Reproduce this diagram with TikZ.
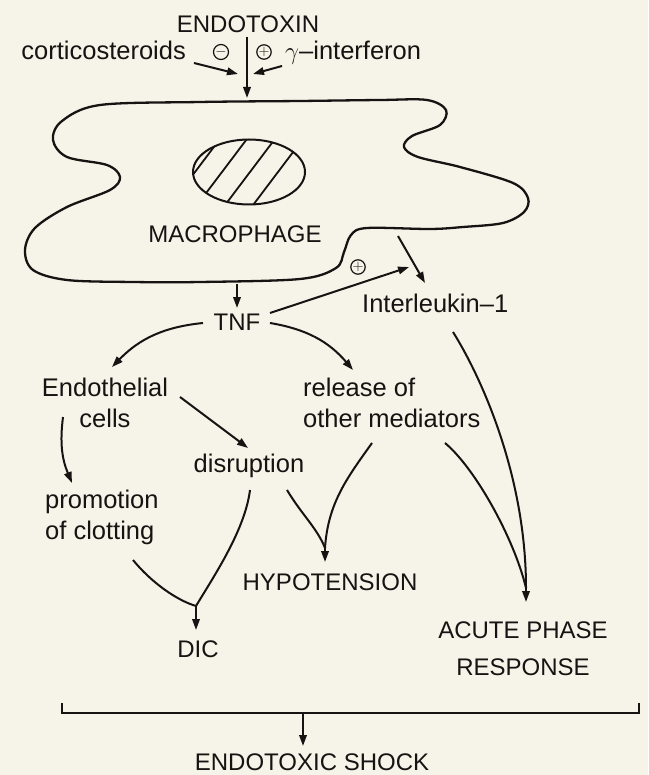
\documentclass[tikz,border=0pt]{standalone}
\usepackage{fontspec}
\setmainfont{Liberation Sans}
\usetikzlibrary{arrows.meta,calc}
\definecolor{paper}{RGB}{246,243,232}
\definecolor{ink}{RGB}{22,20,18}
\tikzset{lbl/.style={inner sep=0pt,anchor=base,text=ink,font=\fontsize{25.5}{30.5}\selectfont},caps/.style={inner sep=0pt,anchor=base,text=ink,font=\fontsize{24}{37}\selectfont},edge/.style={-{Triangle[length=11pt,width=7.5pt]},line width=2pt,draw=ink},link/.style={line width=2pt,draw=ink},sign/.style={circle,draw=ink,line width=1.2pt,inner sep=0pt,minimum size=14pt,text=ink,font=\fontsize{14}{14}\selectfont}}

\begin{document}
\begin{tikzpicture}[x=1pt,y=-1pt]
\useasboundingbox(0,0)rectangle(648,775);
\fill[paper](0,0)rectangle(648,775);
% macrophage
\draw[ink,line width=2.3pt]plot[smooth cycle,tension=0.55]coordinates{(100,105)(200,102)(300,101)(380,100)(427,100)(446,110)(440,125)(412,136)(404,147)(418,157)(460,167)(513,183)(528,198)(524,212)(503,223)(463,227)(430,229)(367,228)(351,235)(344,252)(336,268)(300,279)(200,282)(133,282)(67,280)(33,270)(25,250)(35,228)(67,207)(110,190)(120,177)(107,165)(67,157)(53,140)(62,121)};
\draw[ink,line width=2pt](249,172)ellipse[x radius=56,y radius=32.5];
\begin{scope}
\clip(249,172)ellipse[x radius=56,y radius=32.5];
\foreach \x in {195,222,250,278}\draw[ink,line width=1.8pt](\x-40,225)--(\x+40,119);
\end{scope}
\node[caps](endo)at(248,33){ENDOTOXIN};
\node[lbl,anchor=base east](cortico)at(186,60){corticosteroids};
\node[lbl,anchor=base west](ifn)at(285,60){$\gamma$--interferon};
\node[sign,minimum size=15pt](neg)at(221,52){$-$};
\node[sign,minimum size=13pt](pos)at(264,52){$+$};
\node[caps](macro)at(235,243){MACROPHAGE};
\node[caps](tnf)at(237,330){TNF};
\node[lbl,anchor=base west](il1)at(362,312){Interleukin--1};
\node[sign,minimum size=13pt](pos2)at(358,267){$+$};
\node[lbl,align=center](endoth)at(105,427){Endothelial\\cells};
\node[lbl,align=left,anchor=base west](release)at(303,427){release of\\other mediators};
\node[lbl](disr)at(249,472){disruption};
\node[lbl,align=left,anchor=base west](promo)at(45,539){promotion\\of clotting};
\node[caps](hypo)at(330,590){HYPOTENSION};
\node[caps](dic)at(198,657){DIC};
\node[caps,align=center](acute)at(523,675){ACUTE PHASE\\RESPONSE};
\node[caps](shock)at(312,770){ENDOTOXIC SHOCK};
\coordinate(mtop)at(247,98);
\coordinate(mbot)at(237,284);
\coordinate(mright)at(398,236);
\coordinate(hj)at(325,548);
\coordinate(aj)at(526,588);
\coordinate(dj)at(196,606);
\coordinate(bm)at(303,713);
% endotoxin and its modifiers
\draw[edge]($(endo.base)+(-1,4)$)--(mtop);
\draw[edge]($(cortico.base east)+(8,3)$)--($(mtop)+(-9,-24)$);
\draw[edge]($(ifn.base west)+(-3,6)$)--($(mtop)+(6,-24)$);
% products
\draw[edge](mbot)--($(tnf.base)+(0,-22)$);
\draw[edge](mright)--coordinate[pos=0.62](ilmid)($(il1.base west)+(63,-29)$);
\draw[edge,shorten >=6pt]($(tnf.base)+(33,-17)$)--(ilmid);
\draw[edge]($(tnf.base)+(-34,-7)$)to[bend right=20]($(endoth.base)+(7,-60)$);
\draw[edge]($(tnf.base)+(33,-7)$)to[bend left=20]($(release.base west)+(50,-57)$);
\draw[edge]($(endoth.base)+(75,-30)$)--($(disr.base)+(-1,-24)$);
\draw[edge]($(endoth.base)+(-42,-10)$)to[bend right=15]($(promo.base west)+(27,-56)$);
% converging effects
\draw[link]($(il1.base west)+(91,20)$)..controls +(30,48) and +(0,-110)..(aj);
\draw[link]($(release.base west)+(142,16)$)..controls +(30,25) and +(-12,-50)..(aj);
\draw[edge](aj)--($(acute.base)+(3,-73)$);
\draw[link]($(release.base west)+(69,16)$)..controls +(-25,35) and +(3,-45)..(hj);
\draw[link]($(disr.base)+(38,18)$)..controls +(15,25) and +(-8,-20)..(hj);
\draw[edge](hj)--($(hypo.base)+(-5,-28)$);
\draw[link]($(disr.base)+(1,18)$)..controls +(-5,40) and +(18,-30)..(dj);
\draw[link]($(promo.base west)+(88,21)$)..controls +(18,22) and +(-20,-6)..(dj);
\draw[edge](dj)--($(dic.base)+(-2,-27)$);
% bracket
\draw[link](62,703)--(62,713)--(639,713)--(639,703);
\draw[edge](bm)--($(shock.base)+(-9,-24)$);
\end{tikzpicture}
\end{document}
